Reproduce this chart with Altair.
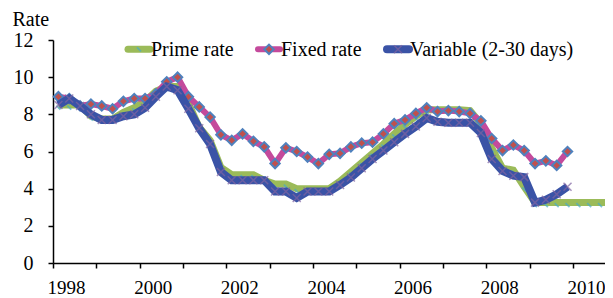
import altair as alt
import pandas as pd

# Quarterly values, starting 1998 Q1
prime = [8.5, 8.5, 8.5, 7.9, 7.75, 7.75, 8.1, 8.35, 8.7, 9.25, 9.5, 9.5,
         8.6, 7.3, 6.6, 5.15, 4.75, 4.75, 4.75, 4.45, 4.25, 4.25, 4.0, 4.0,
         4.0, 4.0, 4.4, 4.9, 5.4, 5.9, 6.4, 6.95, 7.45, 7.9, 8.25, 8.25,
         8.25, 8.25, 8.2, 7.5, 6.2, 5.1, 5.0, 4.1, 3.25, 3.25, 3.25, 3.25,
         3.25, 3.25, 3.25, 3.25]
fixed = [8.95, 8.85, 8.45, 8.55, 8.45, 8.3, 8.7, 8.85, 8.85, 9.1, 9.75, 10.0,
         8.95, 8.4, 7.85, 6.9, 6.6, 6.95, 6.55, 6.25, 5.35, 6.2, 6.0, 5.7,
         5.35, 5.85, 5.9, 6.25, 6.45, 6.5, 6.95, 7.5, 7.7, 8.05, 8.35, 8.15,
         8.2, 8.15, 8.05, 7.65, 6.7, 6.05, 6.35, 6.05, 5.35, 5.5, 5.25, 6.0]
variable = [8.5, 8.85, 8.45, 8.0, 7.7, 7.7, 7.9, 8.0, 8.35, 8.95, 9.5, 9.3,
            8.3, 7.25, 6.4, 4.9, 4.45, 4.45, 4.45, 4.45, 3.85, 3.85, 3.5, 3.85,
            3.85, 3.85, 4.2, 4.6, 5.1, 5.6, 6.05, 6.5, 6.95, 7.35, 7.8, 7.6,
            7.55, 7.55, 7.55, 7.0, 5.6, 4.95, 4.7, 4.62, 3.25, 3.4, 3.7, 4.1]
years = list(range(1998, 2011))
y_ticks = [0, 2, 4, 6, 8, 10, 12]
names = ["Prime rate", "Fixed rate", "Variable (2-30 days)"]

FONT = "Liberation Serif"
GREEN, CYAN = "#9BBB59", "#4BACC6"
PINK, RED, BLUE_EDGE = "#C44A9C", "#C0504D", "#4F81BD"
DBLUE, PURPLE = "#3A53A6", "#8064A2"
XSHAPE = "M-1,-1L1,1M-1,1L1,-1"
BSLASH = "M-1,-1L1,1"


def frame(vals):
    return pd.DataFrame({"t": [1998 + (i + 0.5) / 4 for i in range(len(vals))],
                         "v": vals})


x = alt.X("t:Q", title=None,
          scale=alt.Scale(domain=[1998, 2010.74], nice=False, zero=False),
          axis=alt.Axis(values=years, format="d",
                        labelExpr="datum.value % 2 == 0 ? datum.label : ''",
                        labelOffset=13, labelPadding=10, tickSize=5,
                        labelFont=FONT, labelFontSize=19, labelColor="black",
                        domainColor="black", tickColor="black",
                        domainWidth=1.5, tickWidth=1.5, grid=False,
                        labelFlush=False, labelOverlap=False))
y = alt.Y("v:Q",
          scale=alt.Scale(domain=[0, 12], nice=False),
          axis=alt.Axis(values=y_ticks, tickSize=5, labelPadding=15,
                        labelFont=FONT, labelFontSize=20, labelColor="black",
                        domainColor="black", tickColor="black",
                        domainWidth=1.5, tickWidth=1.5, grid=False,
                        title="Rate", titleAngle=0, titleAlign="left",
                        titleBaseline="alphabetic", titleX=-41, titleY=-15,
                        titleFont=FONT, titleFontSize=20,
                        titleFontWeight="normal", titleColor="black"))

dp, dfx, dv = frame(prime), frame(fixed), frame(variable)

prime_line = alt.Chart(dp).mark_line(color=GREEN, strokeWidth=7, clip=True).encode(x=x, y=y)
prime_mk = alt.Chart(dp).mark_point(shape=BSLASH, size=16, color=CYAN, strokeWidth=1.8,
                                    yOffset=2.5, clip=True).encode(x=x, y=y)
fixed_line = alt.Chart(dfx).mark_line(color=PINK, strokeWidth=6).encode(x=x, y=y)
fixed_mk = alt.Chart(dfx).mark_point(shape="diamond", size=88, filled=True, fill=RED,
                                     stroke=BLUE_EDGE, strokeWidth=2, opacity=1).encode(x=x, y=y)
var_line = alt.Chart(dv).mark_line(color=DBLUE, strokeWidth=8).encode(x=x, y=y)
var_mk = alt.Chart(dv).mark_point(shape=XSHAPE, size=64, color=PURPLE, strokeWidth=1.5).encode(x=x, y=y)

# legend (drawn inside the plot, top)
one = alt.Data(values=[{}])


def legend_item(x0, name, line_color, line_w, mk):
    line = alt.Chart(one).mark_rule(color=line_color, strokeWidth=line_w, strokeCap="round").encode(
        x=alt.value(x0), x2=alt.value(x0 + 22), y=alt.value(9.3))
    text = alt.Chart(one).mark_text(text=name, font=FONT, fontSize=20, color="black",
                                    align="left", baseline="alphabetic").encode(
        x=alt.value(x0 + 23), y=alt.value(15.5))
    marker = alt.Chart(one).mark_point(**mk).encode(x=alt.value(x0 + 11), y=alt.value(9.3))
    return [line, marker, text]


leg = []
leg += legend_item(75, names[0], GREEN, 7, dict(shape=BSLASH, size=16, color=CYAN, strokeWidth=1.8))
leg += legend_item(205, names[1], PINK, 6, dict(shape="diamond", size=88, filled=True, fill=RED,
                                                stroke=BLUE_EDGE, strokeWidth=2, opacity=1))
leg += legend_item(334, names[2], DBLUE, 8, dict(shape=XSHAPE, size=64, color=PURPLE, strokeWidth=1.5))

chart = alt.layer(prime_line, prime_mk, fixed_line, fixed_mk, var_line, var_mk, *leg).properties(
    width=552, height=223,
    autosize=alt.AutoSizeParams(type="none"),
    padding={"left": 45, "top": 32, "right": 0, "bottom": 42},
    background="white",
).configure_view(stroke=None)

chart.save("out.html", embed_options={"renderer": "svg", "actions": False})
